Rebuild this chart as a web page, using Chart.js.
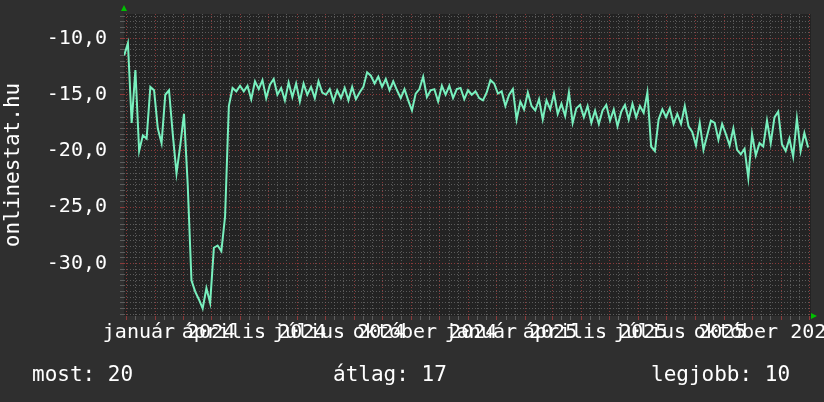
<!DOCTYPE html>
<html>
<head>
<meta charset="utf-8">
<script src="https://cdn.jsdelivr.net/npm/chart.js@4.4.1/dist/chart.umd.min.js"></script>
<style>
  html, body { margin: 0; padding: 0; background: #2f2f2f; }
  #wrap { position: relative; width: 824px; height: 402px; }
  #chart { position: absolute; left: 0; top: 0; }
  .stat { position: absolute; top: 362px; font: 21px "DejaVu Sans Mono", monospace; color: #ffffff; white-space: pre; }
</style>
</head>
<body>
<div id="wrap">
  <canvas id="chart" width="824" height="402"></canvas>
  <span class="stat" style="left:32px">most: 20</span>
  <span class="stat" style="left:333px">átlag: 17</span>
  <span class="stat" style="left:651px">legjobb: 10</span>
</div>
<script>
// onlinestat.hu - ranking history, Dec 2023 .. Dec 2025

const monthNames = ['január', 'február', 'március', 'április', 'május', 'június',
                    'július', 'augusztus', 'szeptember', 'október', 'november', 'december'];
const labelMonths = [0, 3, 6, 9];      // quarterly axis labels
const firstDay = -33;                  // first sample, days from 2024-01-01
const stepDays = 4;                    // one sample every 4 days

const values = [
  -11.5, -10.4, -17.5, -12.8, -20.0, -18.6, -18.9, -14.3, -14.6, -18.0,
  -19.3, -15.0, -14.6, -18.5, -22.0, -19.5, -16.7, -23.0, -31.5, -32.5,
  -33.2, -34.0, -32.2, -33.5, -28.6, -28.4, -28.9, -25.8, -16.0, -14.4,
  -14.7, -14.2, -14.7, -14.2, -15.4, -13.8, -14.5, -13.7, -15.3, -14.1,
  -13.6, -15.0, -14.4, -15.5, -13.9, -15.2, -14.0, -15.6, -14.0, -15.0,
  -14.3, -15.3, -13.8, -14.8, -15.0, -14.5, -15.6, -14.6, -15.3, -14.4,
  -15.5, -14.3, -15.4, -14.8, -14.3, -13.0, -13.3, -14.0, -13.4, -14.3,
  -13.6, -14.6, -13.8, -14.6, -15.3, -14.5, -15.5, -16.4, -14.9, -14.5,
  -13.4, -15.2, -14.6, -14.5, -15.6, -14.2, -15.0, -14.2, -15.3, -14.5,
  -14.4, -15.4, -14.6, -15.0, -14.7, -15.3, -15.5, -14.8, -13.7, -14.0,
  -14.9, -14.7, -16.0, -15.0, -14.5, -17.2, -15.6, -16.3, -14.8, -16.0,
  -16.4, -15.4, -17.2, -15.5, -16.3, -14.9, -16.7, -15.8, -16.9, -14.8,
  -17.5, -16.2, -15.9, -17.0, -16.0, -17.5, -16.4, -17.6, -16.4, -15.9,
  -17.3, -16.3, -17.8, -16.5, -15.9, -17.2, -15.8, -17.0, -16.0, -16.6,
  -14.8, -19.6, -20.0, -17.2, -16.3, -17.0, -16.2, -17.6, -16.7, -17.6,
  -16.0, -17.8, -18.3, -19.5, -17.5, -19.9, -18.6, -17.3, -17.5, -19.0,
  -17.6, -18.5, -19.5, -18.0, -19.9, -20.3, -19.8, -22.4, -18.5, -20.4,
  -19.3, -19.6, -17.3, -19.3, -17.0, -16.5, -19.4, -20.0, -18.9, -20.5,
  -17.1, -20.0, -18.4, -19.7
];

const xMin = -33.2, xMax = 702.1;
const yMin = -34.67, yMax = -7.82;

const red = 'rgba(150, 60, 60, 0.9)';
const grey = 'rgba(110, 110, 110, 0.75)';

const dayOf = (y, m, d) => Math.round((Date.UTC(y, m, d) - Date.UTC(2024, 0, 1)) / 864e5);

// month starts are major grid lines, 11th and 21st minor ones
const xTicks = [];
const xLabels = {};
for (let y = 2023; y <= 2025; y++) {
  for (let m = 0; m < 12; m++) {
    [1, 11, 21].forEach(d => {
      const v = dayOf(y, m, d);
      if (v >= xMin && v <= xMax) xTicks.push({ value: v, major: d === 1 });
    });
    if (labelMonths.includes(m)) xLabels[dayOf(y, m, 1)] = monthNames[m] + ' ' + y;
  }
}

const yTicks = [];
for (let k = -69; k <= -16; k++) yTicks.push({ value: k / 2, major: k % 10 === 0 });

const points = values.map((v, i) => ({ x: firstDay + i * stepDays, y: v }));

const frame = {
  id: 'frame',
  beforeDraw(chart) {
    const { ctx, chartArea: a } = chart;
    ctx.save();
    ctx.fillStyle = '#232323';
    ctx.fillRect(a.left, a.top, a.right - a.left, a.bottom - a.top);
    ctx.restore();
  },
  afterDraw(chart) {
    const { ctx, chartArea: a } = chart;
    ctx.save();
    ctx.fillStyle = '#00c000';
    ctx.beginPath();
    ctx.moveTo(a.left - 3, a.top - 3);
    ctx.lineTo(a.left + 3, a.top - 3);
    ctx.lineTo(a.left, a.top - 9);
    ctx.closePath();
    ctx.fill();
    ctx.beginPath();
    ctx.moveTo(a.right, a.bottom - 3);
    ctx.lineTo(a.right, a.bottom + 3);
    ctx.lineTo(a.right + 6, a.bottom);
    ctx.closePath();
    ctx.fill();
    ctx.restore();
  }
};

Chart.defaults.font.family = '"DejaVu Sans Mono", monospace';
Chart.defaults.color = '#ffffff';

new Chart(document.getElementById('chart'), {
  type: 'line',
  data: {
    datasets: [{
      data: points,
      borderColor: '#78f0be',
      borderWidth: 2,
      pointRadius: 0,
      tension: 0,
      fill: false
    }]
  },
  options: {
    responsive: false,
    animation: false,
    layout: { padding: { top: 14, right: 13, bottom: 0, left: 0 } },
    plugins: { legend: { display: false }, tooltip: { enabled: false } },
    scales: {
      x: {
        type: 'linear',
        min: xMin,
        max: xMax,
        afterBuildTicks: s => { s.ticks = xTicks.map(t => ({ ...t })); },
        afterFit: s => { s.height = 86; s.paddingLeft = 0; s.paddingRight = 0; },
        ticks: {
          autoSkip: false,
          maxRotation: 0,
          minRotation: 0,
          padding: 1,
          labelOffset: 14,
          font: { size: 20 },
          callback: v => xLabels[v] || ''
        },
        grid: {
          color: c => (c.tick && c.tick.major ? red : grey),
          tickColor: c => (c.tick && c.tick.major ? red : grey),
          tickLength: 4,
          lineWidth: 1
        },
        border: { display: false, dash: [1, 2] }
      },
      y: {
        min: yMin,
        max: yMax,
        afterBuildTicks: s => { s.ticks = yTicks.map(t => ({ ...t })); },
        afterFit: s => { s.width = 124; s.paddingTop = 0; s.paddingBottom = 0; },
        ticks: {
          autoSkip: false,
          padding: 13,
          font: { size: 20 },
          callback: v => (Math.round(v * 2) % 10 === 0 ? v.toFixed(1).replace('.', ',') : '')
        },
        grid: {
          color: c => (c.tick && c.tick.major ? red : grey),
          tickColor: c => (c.tick && c.tick.major ? red : grey),
          tickLength: 4,
          lineWidth: 1
        },
        border: { display: false, dash: [1, 2] },
        title: {
          display: true,
          text: 'onlinestat.hu',
          color: '#ffffff',
          font: { size: 21 },
          padding: { top: 1, bottom: 0 }
        }
      }
    }
  },
  plugins: [frame]
});
</script>
</body>
</html>
